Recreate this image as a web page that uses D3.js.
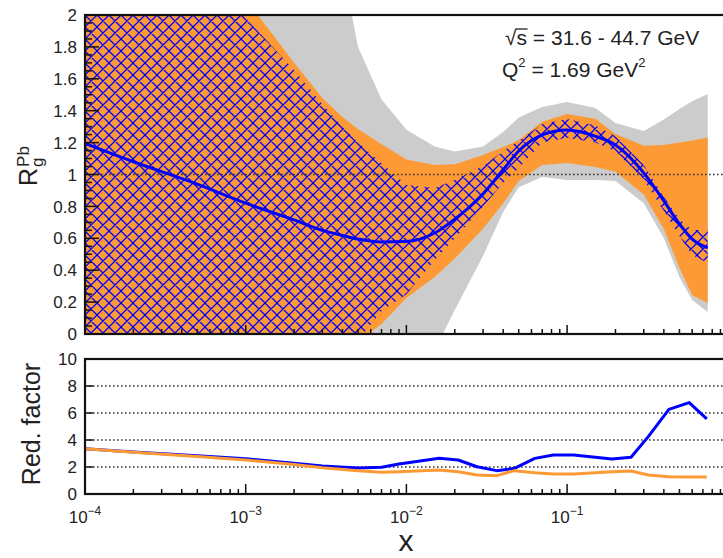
<!DOCTYPE html>
<html><head><meta charset="utf-8">
<script src="https://cdn.jsdelivr.net/npm/d3@7"></script>
<style>
body{margin:0;background:#fff}
svg{display:block}
text{font-family:"Liberation Sans",Arial,Helvetica,sans-serif;fill:#222}
</style>
</head><body>
<script>
// ---------- data ----------
const xGrid    = [1e-4, 2e-4, 5e-4, 1e-3, 2e-3, 3e-3, 4e-3, 5e-3, 7e-3, 1e-2, 1.5e-2, 2e-2, 3e-2, 4e-2, 5e-2, 7e-2, 0.1, 0.15, 0.2, 0.3, 0.4, 0.5, 0.6, 0.75];
const central  = [1.195, 1.08, 0.94, 0.82, 0.715, 0.65, 0.618, 0.595, 0.577, 0.58, 0.633, 0.72, 0.878, 1.03, 1.147, 1.248, 1.279, 1.24, 1.185, 1.01, 0.834, 0.69, 0.595, 0.54];
const hatchHi  = [2.7, 2.5, 2.25, 1.98, 1.655, 1.44, 1.30, 1.20, 1.07, 0.934, 0.915, 0.965, 1.053, 1.147, 1.21, 1.317, 1.348, 1.307, 1.24, 1.06, 0.861, 0.72, 0.652, 0.652];
const hatchLo  = [-1.5, -1.3, -1.0, -0.7, -0.4, -0.22, -0.12, -0.04, 0.144, 0.25, 0.464, 0.60, 0.80, 0.947, 1.04, 1.2, 1.23, 1.20, 1.145, 0.968, 0.771, 0.615, 0.495, 0.445];
const orangeHi = [3.2, 2.9, 2.5, 2.1, 1.70, 1.48, 1.36, 1.285, 1.19, 1.094, 1.06, 1.064, 1.122, 1.172, 1.216, 1.33, 1.38, 1.35, 1.254, 1.18, 1.185, 1.20, 1.213, 1.232];
const orangeLo = [-1.7, -1.4, -1.0, -0.7, -0.4, -0.22, -0.12, -0.05, 0.063, 0.225, 0.357, 0.473, 0.66, 0.82, 0.96, 1.06, 1.072, 1.047, 1.018, 0.874, 0.658, 0.414, 0.245, 0.194];
const greyHi   = [3.8, 3.6, 3.3, 3.1, 2.9, 2.7, 2.3, 1.80, 1.47, 1.28, 1.175, 1.144, 1.175, 1.266, 1.357, 1.423, 1.455, 1.417, 1.323, 1.273, 1.345, 1.41, 1.46, 1.505];
const greyLo   = [-2.4, -2.1, -1.8, -1.5, -1.2, -1.0, -0.85, -0.75, -0.6, -0.45, -0.1, 0.15, 0.49, 0.765, 0.92, 0.985, 0.965, 0.965, 0.96, 0.82, 0.60, 0.357, 0.213, 0.138];

const redX      = [1e-4, 2e-4, 5e-4, 1e-3, 2e-3, 3e-3, 5e-3, 7e-3, 0.009, 0.016, 0.021, 0.0275, 0.0365, 0.047, 0.063, 0.082, 0.11, 0.19, 0.25, 0.32, 0.43, 0.575, 0.74];
const redBlue   = [3.35, 3.12, 2.84, 2.62, 2.27, 2.08, 1.92, 1.98, 2.22, 2.64, 2.52, 2.02, 1.73, 1.9, 2.64, 2.89, 2.89, 2.59, 2.72, 4.25, 6.27, 6.77, 5.56];
const redOrange = [3.35, 3.1, 2.77, 2.52, 2.18, 1.95, 1.72, 1.62, 1.65, 1.78, 1.65, 1.41, 1.36, 1.73, 1.58, 1.48, 1.48, 1.65, 1.7, 1.41, 1.28, 1.26, 1.26];

const yTicksTop    = [0, 0.2, 0.4, 0.6, 0.8, 1, 1.2, 1.4, 1.6, 1.8, 2];
const yTicksBottom = [0, 2, 4, 6, 8, 10];
const gridBottom   = [2, 4, 6, 8];
const xDecades     = [1e-4, 1e-3, 1e-2, 1e-1, 1];
const xLabelled    = [1e-4, 1e-3, 1e-2, 1e-1];
const xExponents   = ["−4", "−3", "−2", "−1"];
const energyLabel  = "√s = 31.6 - 44.7 GeV";

// ---------- layout ----------
const W = 723, H = 558;
const L = 85, R = 727.8;
const T1 = 15, B1 = 334, T2 = 359, B2 = 494;
const COL_GREY = "#cccccc", COL_ORANGE = "#fd9a36", COL_BLUE = "#0000ff";
const HS = 12; // hatch tile size

const svg = d3.select("body").append("svg").attr("width", W).attr("height", H);
const defs = svg.append("defs");
defs.append("clipPath").attr("id", "c1").append("rect").attr("x", L).attr("y", T1).attr("width", R - L).attr("height", B1 - T1);
defs.append("clipPath").attr("id", "c2").append("rect").attr("x", L).attr("y", T2).attr("width", R - L).attr("height", B2 - T2);
const pat = defs.append("pattern").attr("id", "hatch").attr("patternUnits", "userSpaceOnUse")
  .attr("width", HS).attr("height", HS).attr("x", L).attr("y", T1);
pat.append("path")
  .attr("d", `M0,0L${HS},${HS}M-2,${HS-2}L2,${HS+2}M${HS-2},-2L${HS+2},2M${HS},0L0,${HS}M-2,2L2,-2M${HS-2},${HS+2}L${HS+2},${HS-2}`)
  .attr("stroke", COL_BLUE).attr("stroke-width", 1.25).attr("fill", "none");

const x = d3.scaleLog().domain([1e-4, 1]).range([L, R]);
const y1 = d3.scaleLinear().domain([0, 2]).range([B1, T1]);
const y2 = d3.scaleLinear().domain([0, 10]).range([B2, T2]);

// ---------- top panel ----------
const g1 = svg.append("g").attr("clip-path", "url(#c1)");
const band = (lo, hi) => d3.area().x((d, i) => x(xGrid[i])).y0((d, i) => y1(lo[i])).y1((d, i) => y1(hi[i]))(xGrid);
g1.append("path").attr("d", band(greyLo, greyHi)).attr("fill", COL_GREY);
g1.append("path").attr("d", band(orangeLo, orangeHi)).attr("fill", COL_ORANGE);
g1.append("path").attr("d", band(hatchLo, hatchHi)).attr("fill", "url(#hatch)");
g1.append("line").attr("x1", L).attr("x2", R).attr("y1", y1(1)).attr("y2", y1(1))
  .attr("stroke", "#333").attr("stroke-width", 1.4).attr("stroke-dasharray", "1.6,2.4");
g1.append("path")
  .attr("d", d3.line().x((d, i) => x(xGrid[i])).y(d => y1(d)).curve(d3.curveMonotoneX)(central))
  .attr("fill", "none").attr("stroke", COL_BLUE).attr("stroke-width", 3);

// ---------- bottom panel ----------
const g2 = svg.append("g").attr("clip-path", "url(#c2)");
gridBottom.forEach(v => {
  g2.append("line").attr("x1", L).attr("x2", R).attr("y1", y2(v)).attr("y2", y2(v))
    .attr("stroke", "#333").attr("stroke-width", 1.4).attr("stroke-dasharray", "1.6,2.4");
});
const redLine = d3.line().x((d, i) => x(redX[i])).y(d => y2(d));
g2.append("path").attr("d", redLine(redBlue)).attr("fill", "none").attr("stroke", COL_BLUE)
  .attr("stroke-width", 3).attr("stroke-linejoin", "round");
g2.append("path").attr("d", redLine(redOrange)).attr("fill", "none").attr("stroke", COL_ORANGE)
  .attr("stroke-width", 3).attr("stroke-linejoin", "round");

// ---------- frames & ticks ----------
const ax = svg.append("g").attr("stroke", "#111").attr("fill", "none");
const minorX = [];
for (let d = 0; d < xDecades.length - 1; d++) for (let k = 2; k <= 9; k++) minorX.push(xDecades[d] * k);

function xTicks(yb, maj, mnr) {
  xDecades.forEach(v => ax.append("line").attr("x1", x(v)).attr("x2", x(v)).attr("y1", yb).attr("y2", yb - maj).attr("stroke-width", 1.5));
  minorX.forEach(v => ax.append("line").attr("x1", x(v)).attr("x2", x(v)).attr("y1", yb).attr("y2", yb - mnr).attr("stroke-width", 1.5));
}
xTicks(B1, 9, 5);
xTicks(B2, 10, 5);

for (let v = 0; v <= 2.0001; v += 0.05) {
  const major = Math.abs(v / 0.2 - Math.round(v / 0.2)) < 1e-6;
  ax.append("line").attr("x1", L).attr("x2", L + (major ? 14 : 7)).attr("y1", y1(v)).attr("y2", y1(v)).attr("stroke-width", 1.5);
}
yTicksBottom.forEach(v => ax.append("line").attr("x1", L).attr("x2", L + 8).attr("y1", y2(v)).attr("y2", y2(v)).attr("stroke-width", 1.5));

ax.append("rect").attr("x", L).attr("y", T1).attr("width", R - L).attr("height", B1 - T1).attr("stroke-width", 2.2);
ax.append("rect").attr("x", L).attr("y", T2).attr("width", R - L).attr("height", B2 - T2).attr("stroke-width", 2.2);

// ---------- tick labels ----------
const fmt = d3.format("~g");
yTicksTop.forEach(v => svg.append("text").attr("x", 77).attr("y", y1(v)).attr("dy", "0.36em")
  .attr("text-anchor", "end").attr("font-size", 17).text(fmt(v)));
yTicksBottom.forEach(v => svg.append("text").attr("x", 77).attr("y", y2(v)).attr("dy", "0.36em")
  .attr("text-anchor", "end").attr("font-size", 17).text(fmt(v)));
xLabelled.forEach((v, i) => {
  const t = svg.append("text").attr("x", x(v)).attr("y", 523).attr("text-anchor", "middle").attr("font-size", 17);
  t.append("tspan").text("10");
  t.append("tspan").attr("font-size", 12).attr("dy", -8).text(xExponents[i]);
});

// ---------- axis titles ----------
svg.append("text").attr("x", 406).attr("y", 551).attr("text-anchor", "middle").attr("font-size", 30).text("x");
svg.append("text").attr("transform", "translate(40,424) rotate(-90)").attr("text-anchor", "middle")
  .attr("font-size", 25).text("Red. factor");
const ty = svg.append("g").attr("transform", "translate(37,186) rotate(-90)");
const rT = ty.append("text").attr("x", 0).attr("y", 0).attr("font-size", 25).text("R");
const rw = rT.node().getComputedTextLength();
ty.append("text").attr("x", rw + 1).attr("y", 6).attr("font-size", 17).text("g");
ty.append("text").attr("x", rw + 1).attr("y", -8).attr("font-size", 17).text("Pb");

// ---------- annotation ----------
const e = svg.append("text").attr("x", 505).attr("y", 45).attr("font-size", 21).text(energyLabel);
const en = e.node();
const s0 = en.getStartPositionOfChar(1).x, s1 = en.getEndPositionOfChar(1).x;
svg.append("line").attr("x1", s0 - 0.5).attr("x2", s1 + 0.5).attr("y1", 29).attr("y2", 29)
  .attr("stroke", "#222").attr("stroke-width", 1.3);
const q = svg.append("text").attr("x", 502).attr("y", 77).attr("font-size", 21);
q.append("tspan").text("Q");
q.append("tspan").attr("font-size", 13).attr("dy", -10).text("2");
q.append("tspan").attr("dy", 10).text(" = 1.69 GeV");
q.append("tspan").attr("font-size", 13).attr("dy", -10).text("2");
</script>
</body></html>
